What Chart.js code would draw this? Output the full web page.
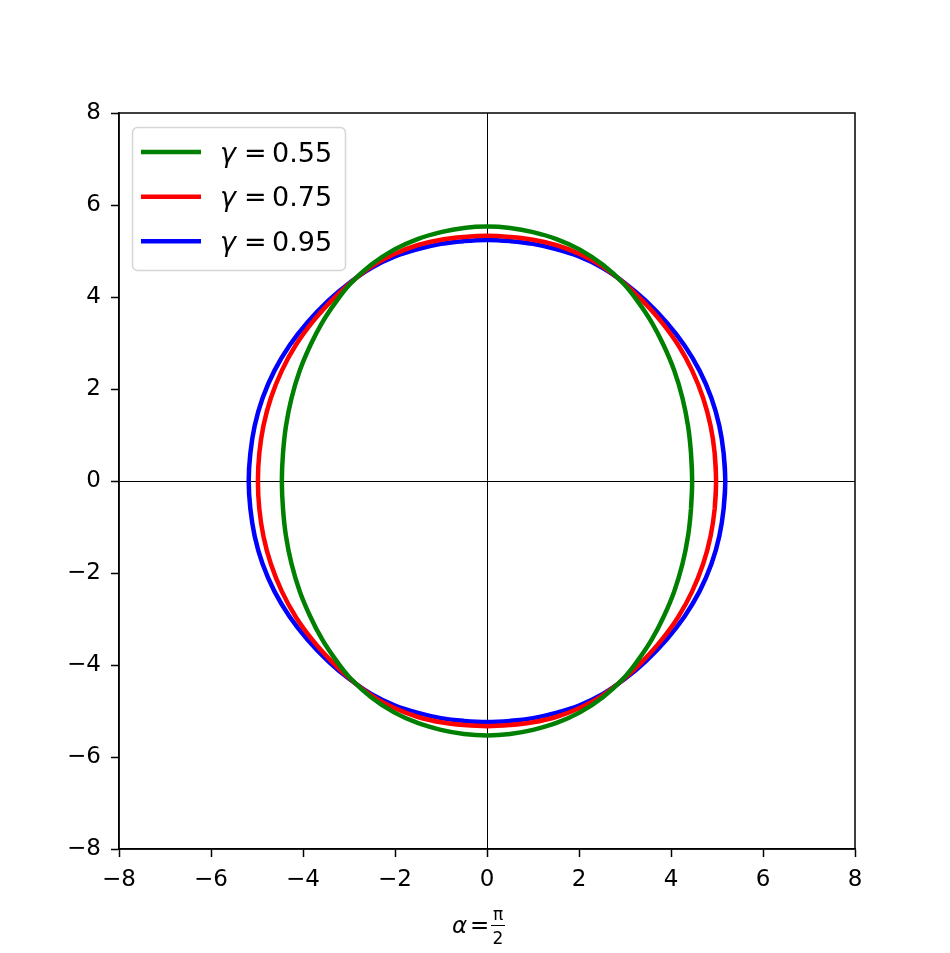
<!DOCTYPE html>
<html>
<head>
<meta charset="utf-8">
<script src="https://cdn.jsdelivr.net/npm/chart.js@4"></script>
<style>
  body { margin: 0; background: #fff; }
  canvas { display: block; }
</style>
</head>
<body>
<canvas id="chart" width="950" height="953"></canvas>
<script>
// Values, upper-right quadrant of each curve
// (from the x axis round to the y axis); the curves are symmetric about both axes
const labels = ['0.55', '0.75', '0.95'];
const colors = ['#008000', '#ff0000', '#0000ff'];

const greenX = [4.46, 4.435, 4.37, 4.25, 4.07, 3.84, 3.58, 3.28, 2.96, 2.52, 2.02, 1.51, 1.00, 0.50, 0.00];
const greenY = [0.00, 0.60, 1.20, 1.80, 2.40, 2.95, 3.45, 3.90, 4.30, 4.70, 5.03, 5.26, 5.41, 5.50, 5.53];

const redX = [4.98, 4.95, 4.86, 4.70, 4.46, 4.16, 3.80, 3.40, 2.99, 2.50, 2.00, 1.50, 1.00, 0.50, 0.00];
const redY = [0.00, 0.60, 1.20, 1.80, 2.40, 2.95, 3.45, 3.90, 4.29, 4.67, 4.94, 5.13, 5.245, 5.305, 5.33];

const blueX = [5.18, 5.145, 5.05, 4.88, 4.62, 4.29, 3.90, 3.45, 3.00, 2.50, 2.00, 1.50, 1.00, 0.50, 0.00];
const blueY = [0.00, 0.60, 1.20, 1.80, 2.40, 2.95, 3.45, 3.92, 4.30, 4.64, 4.88, 5.04, 5.155, 5.215, 5.24];

const tickValues = [-8, -6, -4, -2, 0, 2, 4, 6, 8];

// Mirror one quadrant into a loop; one extra point at each end lets the
// spline close smoothly at the seam
function closedLoop(xs, ys) {
    const q = xs.map((x, i) => ({ x: x, y: ys[i] }));
    const pts = [];
    q.forEach(p => pts.push({ x: p.x, y: p.y }));
    q.slice().reverse().slice(1).forEach(p => pts.push({ x: -p.x, y: p.y }));
    q.slice(1).forEach(p => pts.push({ x: -p.x, y: -p.y }));
    q.slice().reverse().slice(1).forEach(p => pts.push({ x: p.x, y: -p.y }));
    const n = pts.length;
    return [pts[n - 2]].concat(pts, [pts[1]]);
}

const curves = [closedLoop(greenX, greenY), closedLoop(redX, redY), closedLoop(blueX, blueY)];

function fmtTick(v) {
    return v < 0 ? '\u2212' + Math.abs(v) : '' + v;
}

const FONT = 'DejaVu Sans';

// Frame, legend and axis label drawn like matplotlib
const extras = {
    id: 'extras',
    afterDraw(chart) {
        const ctx = chart.ctx;
        const a = chart.chartArea;
        ctx.save();

        // full frame
        ctx.strokeStyle = '#000';
        ctx.lineWidth = 1.5;
        ctx.strokeRect(a.left, a.top, a.right - a.left, a.bottom - a.top);

        // legend box
        ctx.beginPath();
        ctx.roundRect(132.5, 127.5, 213, 143, 5);
        ctx.fillStyle = 'rgba(255,255,255,0.8)';
        ctx.fill();
        ctx.strokeStyle = '#d6d6d6';
        ctx.lineWidth = 1.5;
        ctx.stroke();

        const rows = [152, 196.7, 241.3];
        labels.forEach((lab, i) => {
            ctx.strokeStyle = colors[i];
            ctx.lineWidth = 4.5;
            ctx.beginPath();
            ctx.moveTo(141, rows[i]);
            ctx.lineTo(201, rows[i]);
            ctx.stroke();

            ctx.fillStyle = '#000';
            ctx.textBaseline = 'alphabetic';
            ctx.textAlign = 'left';
            ctx.font = 'italic 27px "' + FONT + '"';
            ctx.fillText('\u03b3', 220, rows[i] + 9.5);
            ctx.font = '27px "' + FONT + '"';
            ctx.fillText('=', 244, rows[i] + 9.5);
            ctx.fillText(lab, 272, rows[i] + 9.5);
        });

        // x axis label: alpha = pi/2
        ctx.fillStyle = '#000';
        ctx.font = 'italic 23px "' + FONT + '"';
        ctx.textAlign = 'left';
        ctx.fillText('\u03b1', 452, 933);
        ctx.font = '23px "' + FONT + '"';
        ctx.fillText('=', 470, 933);
        ctx.font = '17px "' + FONT + '"';
        ctx.textAlign = 'center';
        ctx.fillText('\u03c0', 498, 920);
        ctx.fillText('2', 498, 944);
        ctx.lineWidth = 1;
        ctx.strokeStyle = '#000';
        ctx.beginPath();
        ctx.moveTo(491, 925.5);
        ctx.lineTo(505, 925.5);
        ctx.stroke();

        ctx.restore();
    }
};

function axisOptions(isX) {
    return {
        type: 'linear',
        min: -8,
        max: 8,
        afterBuildTicks(scale) {
            scale.ticks = tickValues.map(v => ({ value: v }));
        },
        afterFit(scale) {
            if (isX) {
                scale.height = 104;
            } else {
                scale.width = 119;
            }
        },
        grid: {
            color: ctx => (ctx.tick && ctx.tick.value === 0) ? '#000' : 'rgba(0,0,0,0)',
            lineWidth: 1,
            tickColor: '#000',
            tickWidth: 1.5,
            tickLength: 8,
            drawTicks: true
        },
        border: { display: true, color: '#000', width: 1.5 },
        ticks: {
            color: '#000',
            padding: isX ? 9 : 10,
            maxRotation: 0,
            autoSkip: false,
            font: { family: FONT, size: 23 },
            callback: v => fmtTick(v)
        }
    };
}

new Chart(document.getElementById('chart'), {
    type: 'scatter',
    data: {
        datasets: curves.map((pts, i) => ({
            label: '\u03b3 = ' + labels[i],
            data: pts,
            showLine: true,
            borderColor: colors[i],
            backgroundColor: colors[i],
            borderWidth: 4.5,
            pointRadius: 0,
            tension: 0.4,
            fill: false
        }))
    },
    options: {
        responsive: false,
        animation: false,
        layout: { padding: { left: 0, right: 95, top: 113, bottom: 0 } },
        plugins: {
            legend: { display: false },
            tooltip: { enabled: false }
        },
        scales: {
            x: axisOptions(true),
            y: axisOptions(false)
        }
    },
    plugins: [extras]
});
</script>
</body>
</html>
